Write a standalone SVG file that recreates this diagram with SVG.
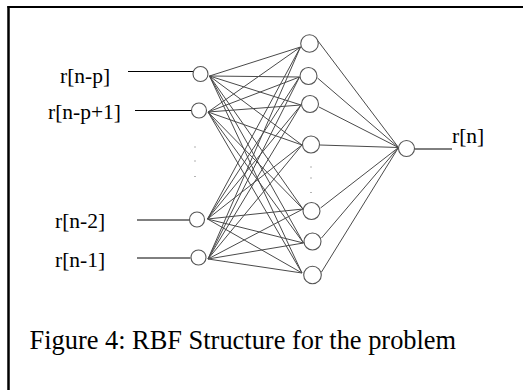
<svg xmlns="http://www.w3.org/2000/svg" width="523" height="390" viewBox="0 0 523 390">
<style>
.lbl{font-family:"Liberation Serif","Times New Roman",serif;font-size:21.5px;fill:#000}
.cap{font-family:"Liberation Serif","Times New Roman",serif;font-size:26.4px;fill:#000}
.c{fill:#fff;stroke:#555;stroke-width:1.1}
.w{stroke:#4a4a4a;stroke-width:1;fill:none}
.in{stroke:#000;stroke-width:1;fill:none}
.dot{fill:#666}
</style>
<rect width="523" height="390" fill="#fff"/>
<g id="frame">
<line x1="7.5" y1="7" x2="523" y2="7" stroke="#000" stroke-width="2"/>
<line x1="8.5" y1="6" x2="8.5" y2="390" stroke="#000" stroke-width="2.5"/>
</g>
<g id="connectors">
<!-- input feed lines -->
<line class="in" x1="128" y1="71.5" x2="193.5" y2="71.5"/>
<line class="in" x1="135" y1="110.5" x2="192" y2="110.5"/>
<line class="in" x1="137" y1="220" x2="190" y2="220"/>
<line class="in" x1="137" y1="258" x2="190.5" y2="258"/>
<line class="in" x1="414.5" y1="149" x2="452" y2="149"/>
<!-- input to hidden -->
<g class="w">
<path d="M209.5 76L300.5 47M209.5 76L299.5 77M209.5 76L301 105M209.5 76L302 145M209.5 76L303 209M209.5 76L303.5 243M209.5 76L302 273"/>
<path d="M208 112L300.5 47M208 112L299.5 77M208 112L301 105M208 112L302 145M208 112L303 209M208 112L303.5 243M208 112L302 273"/>
<path d="M207.5 219L300.5 47M207.5 219L299.5 77M207.5 219L301 105M207.5 219L302 145M207.5 219L303 209M207.5 219L303.5 243M207.5 219L302 273"/>
<path d="M208 259L300.5 47M208 259L299.5 77M208 259L301 105M208 259L302 145M208 259L303 209M208 259L303.5 243M208 259L302 273"/>
</g>
<!-- hidden to output -->
<g class="w">
<path d="M318 41L398.5 147.5M317.5 78L398.5 147.5M319 107L398.5 147.5M320 145L398.5 147.5M320.5 208L398.5 147.5M321.5 238L398.5 147.5M321.5 272L398.5 147.5"/>
</g>
</g>
<g id="in1"><circle class="c" cx="200.5" cy="74" r="7.5"/><text class="lbl" x="60" y="82.5">r[n-p]</text></g>
<g id="in2"><circle class="c" cx="199" cy="110.5" r="7.5"/><text class="lbl" x="48" y="118.5">r[n-p+1]</text></g>
<g id="in3"><circle class="c" cx="197" cy="219.5" r="7.5"/><text class="lbl" x="55" y="228">r[n-2]</text></g>
<g id="in4"><circle class="c" cx="198.5" cy="257.5" r="7.5"/><text class="lbl" x="55" y="267">r[n-1]</text></g>
<g id="h1"><circle class="c" cx="309.5" cy="43.5" r="8.8"/></g>
<g id="h2"><circle class="c" cx="308.5" cy="76" r="8.5"/></g>
<g id="h3"><circle class="c" cx="310" cy="104" r="8.5"/></g>
<g id="h4"><circle class="c" cx="311" cy="144.5" r="8.5"/></g>
<g id="h5"><circle class="c" cx="311.5" cy="211" r="8.5"/></g>
<g id="h6"><circle class="c" cx="312.5" cy="241.5" r="8.5"/></g>
<g id="h7"><circle class="c" cx="312.5" cy="275" r="8.8"/></g>
<g id="out"><circle class="c" cx="406.5" cy="148.5" r="8"/><text class="lbl" x="452" y="142.5">r[n]</text></g>
<g id="dots">
<rect class="dot" x="194.5" y="146.5" width="1" height="1"/>
<rect class="dot" x="194.5" y="160.5" width="1" height="1"/>
<rect class="dot" x="194.5" y="176" width="1" height="1"/>
<rect class="dot" x="310.5" y="166.5" width="1" height="1"/>
<rect class="dot" x="310.5" y="177.5" width="1" height="1"/>
<rect class="dot" x="310.5" y="192" width="1" height="1"/>
</g>
<g id="caption"><text class="cap" x="29.5" y="349">Figure 4: RBF Structure for the problem</text></g>
</svg>
